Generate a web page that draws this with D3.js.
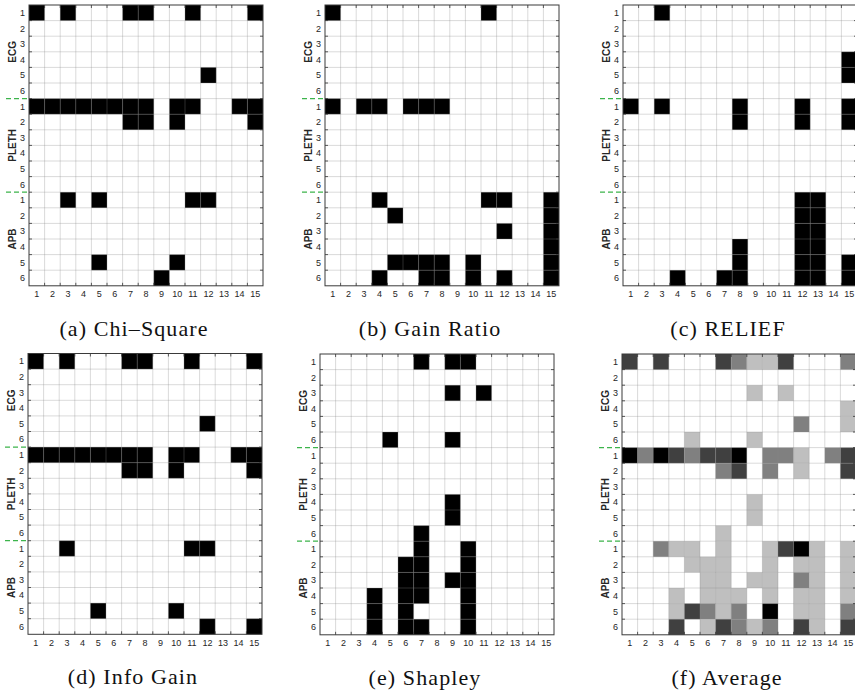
<!DOCTYPE html>
<html>
<head>
<meta charset="utf-8">
<script src="https://cdn.jsdelivr.net/npm/d3@7"></script>
<style>
  body { margin: 0; background: #fff; }
  svg { display: block; }
  .tick-label { font-family: "Liberation Sans", Arial, sans-serif; font-size: 9px; fill: #262626; }
  .group-label { font-family: "Liberation Sans", Arial, sans-serif; font-size: 10px; font-weight: bold; fill: #262626; }
  .caption { font-family: "Liberation Serif", "Times New Roman", serif; font-size: 22px; fill: #111; letter-spacing: 1.1px; }
</style>
</head>
<body>
<script>
const width = 855;
const height = 697;

// row / column labels
const groups = ['ECG', 'PLETH', 'APB'];
const rowLabels = ['1', '2', '3', '4', '5', '6'];
const columns = [1, 2, 3, 4, 5, 6, 7, 8, 9, 10, 11, 12, 13, 14, 15];

// selected columns per row (ECG 1-6, PLETH 1-6, APB 1-6)
const chiSquare = [
  [1, 3, 7, 8, 11, 15], [], [], [], [12], [],
  [1, 2, 3, 4, 5, 6, 7, 8, 10, 11, 14, 15], [7, 8, 10, 15], [], [], [], [],
  [3, 5, 11, 12], [], [], [], [5, 10], [9]
];
const gainRatio = [
  [1, 11], [], [], [], [], [],
  [1, 3, 4, 6, 7, 8], [], [], [], [], [],
  [4, 11, 12, 15], [5, 15], [12, 15], [15], [5, 6, 7, 8, 10, 15], [4, 7, 8, 10, 12, 15]
];
const relief = [
  [3], [], [], [15], [15], [],
  [1, 3, 8, 12, 15], [8, 12, 15], [], [], [], [],
  [12, 13], [12, 13], [12, 13], [8, 12, 13], [8, 12, 13, 15], [4, 7, 8, 12, 13, 15]
];
const infoGain = [
  [1, 3, 7, 8, 11, 15], [], [], [], [12], [],
  [1, 2, 3, 4, 5, 6, 7, 8, 10, 11, 14, 15], [7, 8, 10, 15], [], [], [], [],
  [3, 11, 12], [], [], [], [5, 10], [12, 15]
];
const shapley = [
  [7, 9, 10], [], [9, 11], [], [], [5, 9],
  [], [], [], [9], [9], [7],
  [7, 10], [6, 7, 10], [6, 7, 9, 10], [4, 6, 7, 10], [4, 6, 10], [4, 6, 7, 10]
];

// average panel
const average = [
  [.6, 0, .6, 0, 0, 0, .6, .4, .2, .2, .6, 0, 0, 0, .4],
  [0, 0, 0, 0, 0, 0, 0, 0, 0, 0, 0, 0, 0, 0, 0],
  [0, 0, 0, 0, 0, 0, 0, 0, .2, 0, .2, 0, 0, 0, 0],
  [0, 0, 0, 0, 0, 0, 0, 0, 0, 0, 0, 0, 0, 0, .2],
  [0, 0, 0, 0, 0, 0, 0, 0, 0, 0, 0, .4, 0, 0, .2],
  [0, 0, 0, 0, .2, 0, 0, 0, .2, 0, 0, 0, 0, 0, 0],
  [.8, .4, .8, .6, .4, .6, .6, .8, 0, .4, .4, .2, 0, .4, .6],
  [0, 0, 0, 0, 0, 0, .4, .6, 0, .4, 0, .2, 0, 0, .6],
  [0, 0, 0, 0, 0, 0, 0, 0, 0, 0, 0, 0, 0, 0, 0],
  [0, 0, 0, 0, 0, 0, 0, 0, .2, 0, 0, 0, 0, 0, 0],
  [0, 0, 0, 0, 0, 0, 0, 0, .2, 0, 0, 0, 0, 0, 0],
  [0, 0, 0, 0, 0, 0, .2, 0, 0, 0, 0, 0, 0, 0, 0],
  [0, 0, .4, .2, .2, 0, .2, 0, 0, .2, .6, .8, .2, 0, .2],
  [0, 0, 0, 0, .2, .2, .2, 0, 0, .2, 0, .2, .2, 0, .2],
  [0, 0, 0, 0, 0, .2, .2, 0, .2, .2, 0, .4, .2, 0, .2],
  [0, 0, 0, .2, 0, .2, .2, .2, 0, .2, 0, .2, .2, 0, .2],
  [0, 0, 0, .2, .6, .4, .2, .4, 0, .8, 0, .2, .2, 0, .4],
  [0, 0, 0, .6, 0, .2, .6, .4, .2, .4, 0, .6, .2, 0, .6]
];

const cell = 15.6;
const gridW = cell * columns.length;
const gridH = cell * groups.length * rowLabels.length;

// selected-columns lists -> full matrix of 0/1
function toMatrix (rows) {
  return rows.map((sel) => columns.map((c) => sel.includes(c) ? 1 : 0));
}

const panels = [
  { title: '(a) Chi–Square', values: toMatrix(chiSquare), x: 29, y: 5, max: 1 },
  { title: '(b) Gain Ratio', values: toMatrix(gainRatio), x: 325, y: 5, max: 1 },
  { title: '(c) RELIEF', values: toMatrix(relief), x: 623, y: 5, max: 1 },
  { title: '(d) Info Gain', values: toMatrix(infoGain), x: 28, y: 353.5, max: 1 },
  { title: '(e) Shapley', values: toMatrix(shapley), x: 320, y: 354, max: 1 },
  { title: '(f) Average', values: average, x: 622, y: 354, max: 0.8 }
];

const svg = d3.select('body').append('svg')
    .attr('width', width)
    .attr('height', height);

const rowIds = d3.range(groups.length * rowLabels.length);

panels.forEach((p) => {
  const g = svg.append('g').attr('transform', `translate(${p.x},${p.y})`);

  const x = d3.scaleBand().domain(columns).range([0, gridW]);
  const y = d3.scaleBand().domain(rowIds).range([0, gridH]);
  const colour = d3.scaleLinear().domain([0, p.max]).range(['#ffffff', '#000000']).clamp(true);

  const cells = [];
  p.values.forEach((row, r) => row.forEach((v, c) => cells.push({ r, c: columns[c], v })));

  g.append('rect')
      .attr('width', gridW).attr('height', gridH)
      .attr('fill', '#fff');

  g.selectAll('rect.cell')
    .data(cells.filter((d) => d.v > 0))
    .join('rect')
      .attr('class', 'cell')
      .attr('x', (d) => x(d.c))
      .attr('y', (d) => y(d.r))
      .attr('width', x.bandwidth())
      .attr('height', y.bandwidth())
      .attr('fill', (d) => colour(d.v));

  // grid on cell boundaries
  const vLines = columns.slice(1).map((c) => x(c));
  const hLines = rowIds.slice(1).map((r) => y(r));
  const grid = g.append('g')
      .attr('stroke', 'rgba(140,140,140,0.32)')
      .attr('stroke-width', 1);
  grid.selectAll('line.v').data(vLines).join('line')
      .attr('class', 'v')
      .attr('x1', (d) => d).attr('x2', (d) => d)
      .attr('y1', 0).attr('y2', gridH);
  grid.selectAll('line.h').data(hLines).join('line')
      .attr('class', 'h')
      .attr('y1', (d) => d).attr('y2', (d) => d)
      .attr('x1', 0).attr('x2', gridW);

  // small inward ticks on all four sides
  const ticks = g.append('g').attr('stroke', '#333').attr('stroke-width', 0.8);
  const tl = 3;
  vLines.forEach((d) => {
    ticks.append('line').attr('x1', d).attr('x2', d).attr('y1', 0).attr('y2', tl);
    ticks.append('line').attr('x1', d).attr('x2', d).attr('y1', gridH).attr('y2', gridH - tl);
  });
  hLines.forEach((d) => {
    ticks.append('line').attr('y1', d).attr('y2', d).attr('x1', 0).attr('x2', tl);
    ticks.append('line').attr('y1', d).attr('y2', d).attr('x1', gridW).attr('x2', gridW - tl);
  });

  g.append('rect')
      .attr('width', gridW).attr('height', gridH)
      .attr('fill', 'none')
      .attr('stroke', '#3a3a3a')
      .attr('stroke-width', 1);

  // row labels
  g.selectAll('text.row').data(rowIds).join('text')
      .attr('class', 'tick-label row')
      .attr('x', -4)
      .attr('y', (d) => y(d) + y.bandwidth() / 2)
      .attr('dy', '0.35em')
      .attr('text-anchor', 'end')
      .text((d) => rowLabels[d % rowLabels.length]);

  // column labels
  g.selectAll('text.col').data(columns).join('text')
      .attr('class', 'tick-label col')
      .attr('x', (d) => x(d) + x.bandwidth() / 2)
      .attr('y', gridH + 11.5)
      .attr('text-anchor', 'middle')
      .text((d) => d);

  // group labels
  groups.forEach((name, i) => {
    const cy = y(i * rowLabels.length) + rowLabels.length * y.step() / 2;
    g.append('text')
        .attr('class', 'group-label')
        .attr('transform', `translate(-13.5,${cy}) rotate(-90)`)
        .attr('text-anchor', 'middle')
        .text(name);
  });

  // green dashed separators between groups
  groups.slice(1).forEach((name, i) => {
    const yy = y((i + 1) * rowLabels.length);
    g.append('line')
        .attr('x1', -23).attr('x2', 0)
        .attr('y1', yy).attr('y2', yy)
        .attr('stroke', '#3cb44b')
        .attr('stroke-width', 1.3)
        .attr('stroke-dasharray', '5,3');
  });

  g.append('text')
      .attr('class', 'caption')
      .attr('x', (gridW - 24) / 2)
      .attr('y', gridH + 50)
      .attr('text-anchor', 'middle')
      .text(p.title);
});
</script>
</body>
</html>
